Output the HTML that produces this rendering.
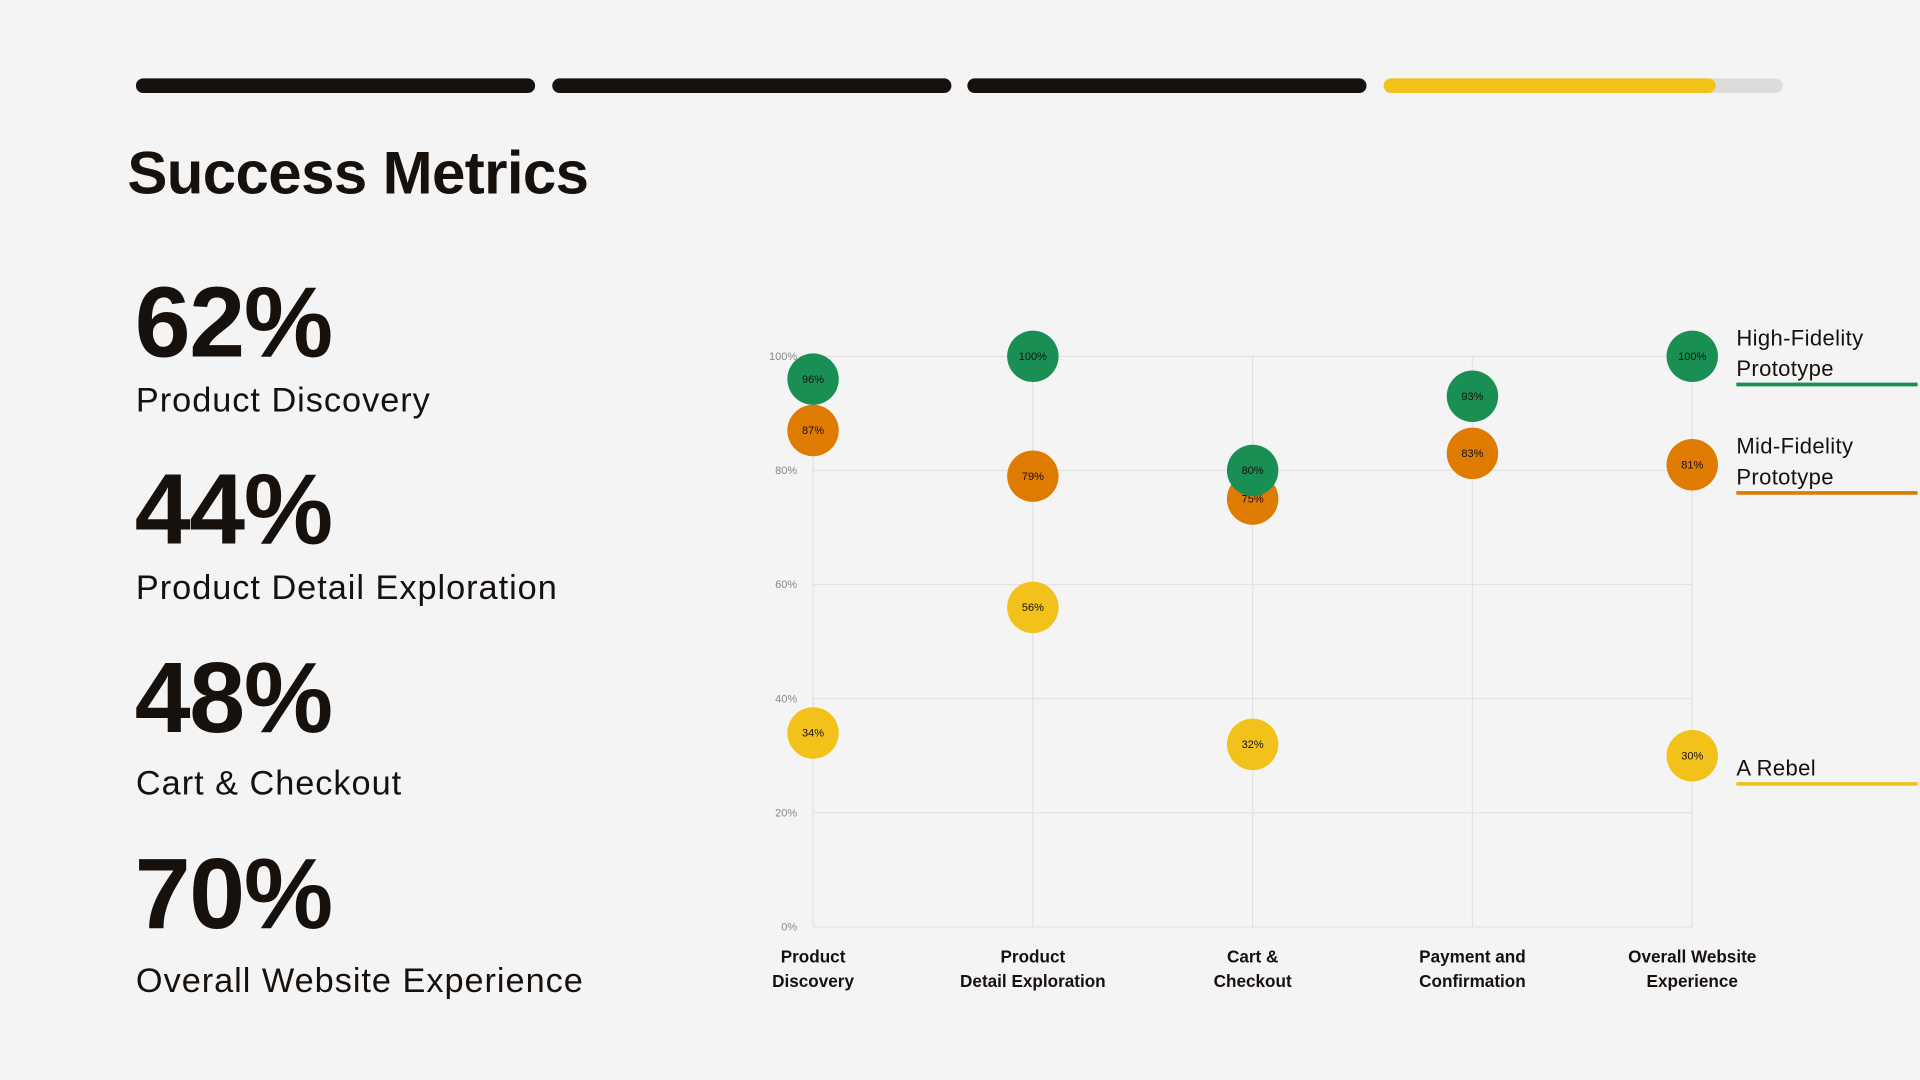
<!DOCTYPE html>
<html><head><meta charset="utf-8">
<style>
html,body{margin:0;padding:0;background:#f4f4f4;overflow:hidden;}
#stage{position:absolute;left:0;top:0;width:1568px;height:882px;transform:scale(1.22449);transform-origin:0 0;font-family:"Liberation Sans",sans-serif;color:#17110e;}
.bar{position:absolute;top:64px;height:12px;border-radius:6px;background:#17110e;}
.big{position:absolute;left:110px;font-size:82px;font-weight:bold;letter-spacing:-1px;line-height:1;}
.lbl{position:absolute;left:111px;font-size:28px;line-height:1;letter-spacing:0.8px;}
</style></head><body>
<div id="stage">
<div class="bar" style="left:111px;width:326px"></div>
<div class="bar" style="left:451px;width:326px"></div>
<div class="bar" style="left:790px;width:326px"></div>
<div class="bar" style="left:1130px;width:326px;background:#dcdcdc"><div style="width:271px;height:12px;border-radius:6px;background:#f2c21b"></div></div>
<div style="position:absolute;left:104px;top:114px;font-size:49px;font-weight:bold;letter-spacing:-0.5px">Success Metrics</div>

<div class="big" style="top:223px">62%</div>
<div class="lbl" style="top:313px">Product Discovery</div>
<div class="big" style="top:376px">44%</div>
<div class="lbl" style="top:466px">Product Detail Exploration</div>
<div class="big" style="top:530px">48%</div>
<div class="lbl" style="top:626px">Cart &amp; Checkout</div>
<div class="big" style="top:690px">70%</div>
<div class="lbl" style="top:787px">Overall Website Experience</div>

<svg id="chart" width="1568" height="882" style="position:absolute;left:0;top:0"></svg>
</div>
<script>
const categories = [["Product","Discovery"],["Product","Detail Exploration"],["Cart &","Checkout"],["Payment and","Confirmation"],["Overall Website","Experience"]];
const rebel = [34,56,32,null,30];
const midFi = [87,79,75,83,81];
const highFi = [96,100,80,93,100];
const yTicks = [0,20,40,60,80,100];
const seriesNames = [["A Rebel"],["Mid-Fidelity","Prototype"],["High-Fidelity","Prototype"]];
const seriesColors = ["#f2c21b","#de7b00","#1a8f54"];

const svg = document.getElementById('chart');
const NS = "http://www.w3.org/2000/svg";
const x0=664, x1=1382, y0=757, y1=291;
const xs = i => x0 + i*(x1-x0)/(categories.length-1);
const ys = v => y0 - v/100*(y0-y1);
function mk(t,a){const e=document.createElementNS(NS,t);for(const k in a)e.setAttribute(k,a[k]);svg.appendChild(e);return e;}
yTicks.forEach(v=>{
  const l=mk('line',{x1:x0,x2:x1,y1:ys(v),y2:ys(v),stroke:'#e2e2e2','stroke-width':1});
  
  
  const t=mk('text',{x:651,y:ys(v)+3,'text-anchor':'end','font-size':9,fill:'#888','font-family':'Liberation Sans, sans-serif'});
  t.textContent=v+'%';
  
  
});
categories.forEach((c,i)=>{
  const l=mk('line',{x1:xs(i),x2:xs(i),y1:y1,y2:y0,stroke:'#e2e2e2','stroke-width':1});
  
  
  c.forEach((s,j)=>{
    const t=mk('text',{x:xs(i),y:786+j*20,'text-anchor':'middle','font-size':14,'font-weight':'bold',fill:'#17110e','font-family':'Liberation Sans, sans-serif'});
    t.textContent=s;
    
    
  });
});
[rebel,midFi,highFi].forEach((arr,si)=>{
  arr.forEach((v,i)=>{
    if(v===null)return;
    const c=mk('circle',{cx:xs(i),cy:ys(v),r:21,fill:seriesColors[si]});
    
    
    const t=mk('text',{x:xs(i),y:ys(v)+3,'text-anchor':'middle','font-size':9,fill:'#17110e','font-family':'Liberation Sans, sans-serif'});
    t.textContent=v+'%';
    
    
  });
  const lastV=arr[arr.length-1];
  const names=seriesNames[si];
  const baseY=ys(lastV)+ (names.length>1?-9:16);
  names.forEach((n,j)=>{
    const t=mk('text',{x:1418,y:baseY+j*25,'font-size':18,fill:'#17110e','font-family':'Liberation Sans, sans-serif','letter-spacing':'0.3'});
    t.textContent=n;
    
    
  });
  const ly=baseY+(names.length-1)*25+7;
  const l=mk('line',{x1:1418,x2:1566,y1:ly,y2:ly,stroke:seriesColors[si],'stroke-width':3});
  
  
});
</script>
</body></html>
